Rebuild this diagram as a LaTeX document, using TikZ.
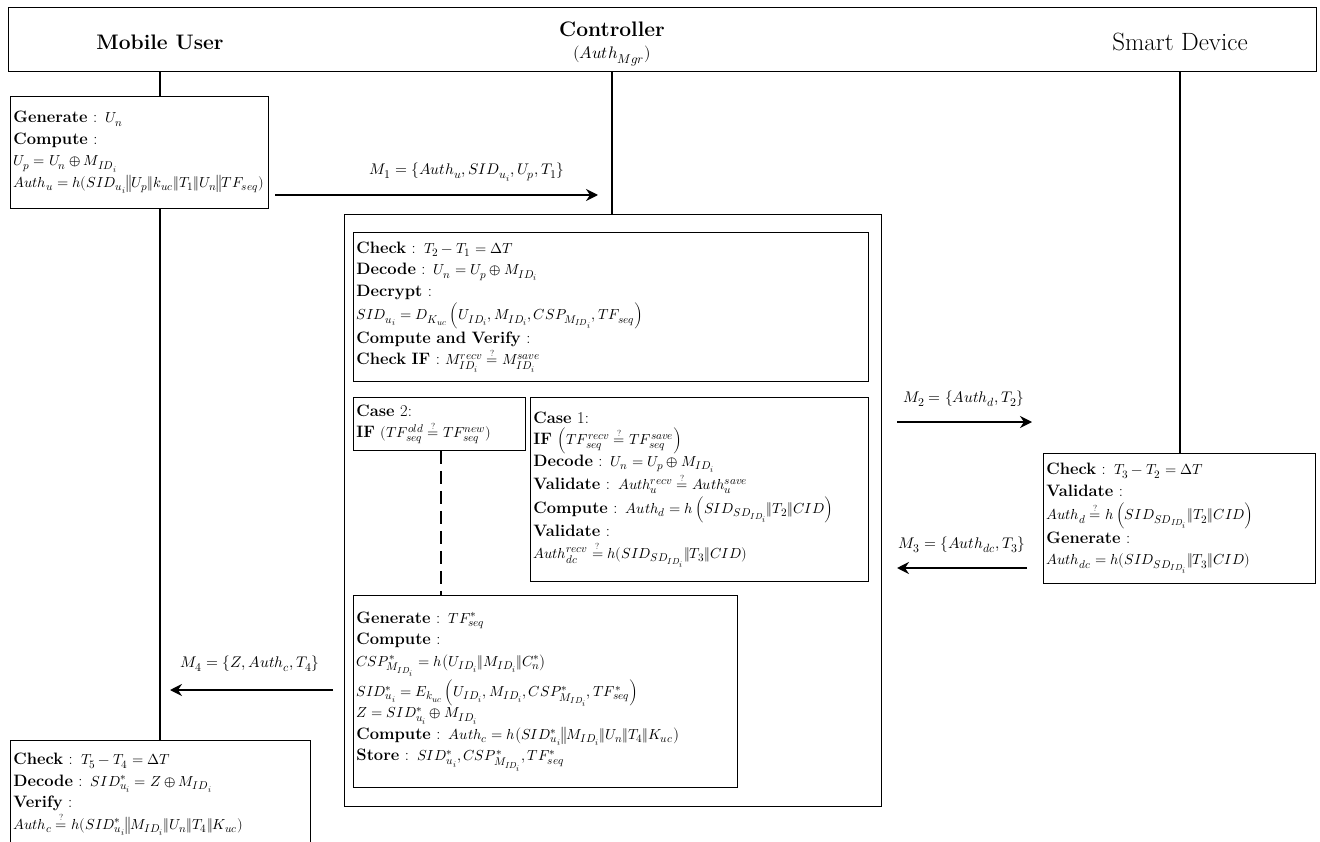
\documentclass[tikz,border=0pt]{standalone}
\usepackage{amsmath}
\usepackage{fontspec}
\usepackage{unicode-math}
\setmathfont{Latin Modern Math}[Scale=0.88]
\DeclareMathSizes{16.5}{16.5}{12.8}{10}
\DeclareMathSizes{17.5}{17.5}{13.5}{10.5}
\DeclareMathSizes{19}{19}{14.5}{11}
\usetikzlibrary{arrows.meta}
\newcommand{\qeq}{\mathrel{\overset{\scriptscriptstyle ?}{=}}}

\begin{document}
\begin{tikzpicture}[x=1pt, y=-1pt,
  box/.style={draw, line width=0.9pt, align=left, anchor=north west, inner sep=3pt, font=\fontsize{16.5}{21.5}\selectfont},
  head/.style={font=\fontsize{25}{27}\selectfont},
  headb/.style={font=\fontsize{21}{24}\selectfont\bfseries},
  life/.style={line width=1.4pt},
  msg/.style={line width=2.4pt, -{Stealth[length=12pt,width=12pt,inset=4pt]}},
  lbl/.style={font=\fontsize{17.5}{20}\selectfont}]
  \useasboundingbox (0,0) rectangle (1320,842);

  % header and lifelines
  \node[draw, line width=0.9pt, minimum width=1308, minimum height=64, anchor=north west] (head) at (8,7) {};
  \node[headb] (muser) at (160,42) {Mobile User};
  \node[headb] (ctrlr) at (612,29) {Controller};
  \node[font=\fontsize{19}{20}\selectfont] (mgr) at (612,56) {$(Auth_{Mgr})$};
  \node[head] (sdev) at (1180,42) {Smart Device};

  \node[box, text width=252, minimum height=112] (user1) at (10,96) {
    \textbf{Generate} : $U_n$\\
    \textbf{Compute} :\\
    $U_p = U_n \oplus M_{ID_i}$\\
    \mbox{$Auth_u = h(SID_{u_i}\big\|U_p\|k_{uc}\|T_1\|U_n\big\|TF_{seq})$}};

  \node[draw, line width=0.9pt, minimum width=537, minimum height=592, anchor=north west] (ctrl) at (344,214) {};

  \node[box, text width=509, minimum height=149] (chk) at (353,232) {
    \textbf{Check} : $T_2 - T_1 = \Delta T$\\
    \textbf{Decode} : $U_n = U_p \oplus M_{ID_i}$\\
    \textbf{Decrypt} :\\[2pt]
    $SID_{u_i} = D_{K_{uc}}\left(U_{ID_i}, M_{ID_i}, CSP_{M_{ID_i}}, TF_{seq}\right)$\\[2pt]
    \textbf{Compute and Verify} :\\
    \textbf{Check IF} : $M_{ID_i}^{recv} \qeq M_{ID_i}^{save}$};

  \node[box, text width=166, minimum height=53] (case2) at (353,397) {
    \textbf{Case} 2:\\
    \mbox{\textbf{IF} $(TF_{seq}^{old} \qeq TF_{seq}^{new})$}};

  \node[box, text width=332, minimum height=184] (case1) at (530,397) {
    \textbf{Case} 1:\\
    \textbf{IF} $\left(TF_{seq}^{recv} \qeq TF_{seq}^{save}\right)$\\
    \textbf{Decode} : $U_n = U_p \oplus M_{ID_i}$\\
    \textbf{Validate} : $Auth_u^{recv} \qeq Auth_u^{save}$\\[2pt]
    \mbox{\textbf{Compute} : $Auth_d = h\left(SID_{SD_{ID_i}}\|T_2\|CID\right)$}\\[2pt]
    \textbf{Validate} :\\
    $Auth_{dc}^{recv} \qeq h(SID_{SD_{ID_i}}\|T_3\|CID)$};

  \node[box, text width=378, minimum height=192] (gen) at (353,595) {
    \textbf{Generate} : $TF_{seq}^*$\\
    \textbf{Compute} :\\
    $CSP_{M_{ID_i}}^* = h\big(U_{ID_i}\|M_{ID_i}\|C_n^*\big)$\\[2pt]
    \mbox{$SID_{u_i}^* = E_{k_{uc}}\left(U_{ID_i}, M_{ID_i}, CSP_{M_{ID_i}}^*, TF_{seq}^*\right)$}\\
    $Z = SID_{u_i}^* \oplus M_{ID_i}$\\
    \mbox{\textbf{Compute} : $Auth_c = h\big(SID_{u_i}^*\big\|M_{ID_i}\|U_n\|T_4\|K_{uc}\big)$}\\
    \textbf{Store} : $SID_{u_i}^*, CSP_{M_{ID_i}}^*, TF_{seq}^*$};

  \node[box, text width=266, minimum height=130] (smart) at (1043,453) {
    \textbf{Check} : $T_3 - T_2 = \Delta T$\\
    \textbf{Validate} :\\[2pt]
    \mbox{$Auth_d \qeq h\left(SID_{SD_{ID_i}}\|T_2\|CID\right)$}\\[2pt]
    \textbf{Generate} :\\
    \mbox{$Auth_{dc} = h(SID_{SD_{ID_i}}\|T_3\|CID)$}};

  \node[box, text width=294, minimum height=108] (user2) at (10,740) {
    \textbf{Check} : $T_5 - T_4 = \Delta T$\\
    \textbf{Decode} : $SID_{u_i}^* = Z \oplus M_{ID_i}$\\
    \textbf{Verify} :\\
    \mbox{$Auth_c \qeq h(SID_{u_i}^*\big\|M_{ID_i}\|U_n\|T_4\|K_{uc})$}};

  \draw[life] (muser |- head.south) -- (muser |- user1.north);
  \draw[life] (muser |- user1.south) -- (muser |- user2.north);
  \draw[life] (ctrlr |- head.south) -- (ctrlr |- ctrl.north);
  \draw[life] (sdev |- head.south) -- (sdev |- smart.north);
  \draw[line width=2pt, dash pattern=on 13pt off 7pt] (case2.south -| 441,0) -- (gen.north -| 441,0);

  % messages
  \coordinate (m1a) at (275,195);
  \coordinate (m1b) at (598,195);
  \coordinate (m2a) at (897,422);
  \coordinate (m2b) at (1032,422);
  \coordinate (m3a) at (1027,568);
  \coordinate (m3b) at (897,568);
  \coordinate (m4a) at (333,690);
  \coordinate (m4b) at (170,690);
  \draw[msg] (m1a) -- (m1b);
  \draw[msg] (m2a) -- (m2b);
  \draw[msg] (m3a) -- (m3b);
  \draw[msg] (m4a) -- (m4b);
  \node[lbl] (m1) at (467,172) {$M_1 = \{Auth_u, SID_{u_i}, U_p, T_1\}$};
  \node[lbl] (m2) at (964,399) {$M_2 = \{Auth_d, T_2\}$};
  \node[lbl] (m3) at (962,545) {$M_3 = \{Auth_{dc}, T_3\}$};
  \node[lbl] (m4) at (250,664) {$M_4 = \{Z, Auth_c, T_4\}$};
\end{tikzpicture}
\end{document}
